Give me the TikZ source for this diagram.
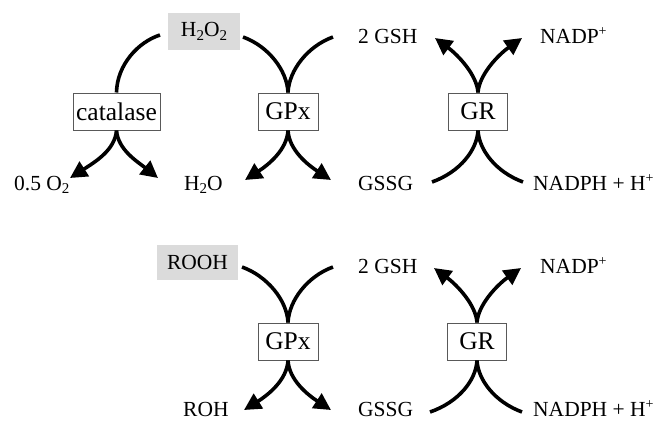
\documentclass[tikz,border=0pt]{standalone}
\usepackage{fontspec}
\setmainfont{Liberation Serif}
\usetikzlibrary{arrows.meta}
\newcommand{\msub}[1]{\raisebox{-0.4ex}{\fontsize{15}{15}\selectfont #1}}
\newcommand{\msup}[1]{\raisebox{0.75ex}{\fontsize{14}{14}\selectfont #1}}
\begin{document}
\begin{tikzpicture}[x=1pt,y=-1pt,
  lbl/.style={anchor=base west,inner sep=0pt,font=\fontsize{21.5}{24}\selectfont},
  enz/.style={draw=black!65,line width=1pt,fill=white,minimum height=37pt,inner sep=0pt,font=\fontsize{25.5}{28}\selectfont},
  subst/.style={fill=black!14,minimum height=37pt,inner sep=0pt,font=\fontsize{21.5}{24}\selectfont},
  flow/.style={line width=3.6pt},
  arr/.style={line width=3.6pt,-{Triangle[length=17pt,width=17pt]}}]
\useasboundingbox (0,0) rectangle (653,421);
% ---------- top row ----------
\node[subst,minimum width=72pt] (h2o2) at (204,31) {H\msub{2}O\msub{2}};
\node[enz,minimum width=87pt] (cat) at (116.5,111.5) {catalase};
\node[enz,minimum width=60pt] (gpx1) at (288,111.5) {GPx};
\node[enz,minimum width=59pt] (gr1) at (478,111.5) {GR};
\node[lbl] (o2) at (14,190) {0.5 O\msub{2}};
\node[lbl] (h2o) at (184,190) {H\msub{2}O};
\node[lbl] (gssg1) at (358,190) {GSSG};
\node[lbl] (nadph1) at (533,190) {NADPH + H\msup{+}};
\node[lbl] (gsh1) at (358,43) {2 GSH};
\node[lbl] (nadp1) at (540,43) {NADP\msup{+}};
\coordinate (cs) at (160,35);
\coordinate (o2t) at (70,178);
\coordinate (h2ot) at (158,178);
\coordinate (g1a) at (243,37);
\coordinate (g1b) at (333,37);
\coordinate (g1c) at (245,180);
\coordinate (g1d) at (331,180);
\coordinate (r1a) at (435,38);
\coordinate (r1b) at (522,38);
\coordinate (r1c) at (432,182);
\coordinate (r1d) at (523,182);
\draw[flow] (cs) .. controls (138,42) and (117,65) .. (cat.north);
\draw[arr] (cat.south) .. controls (115,150) and (95,162) .. (o2t);
\draw[arr] (cat.south) .. controls (118,150) and (138,162) .. (h2ot);
\draw[flow] (g1a) .. controls (268,46) and (287,70) .. (gpx1.north);
\draw[flow] (g1b) .. controls (308,46) and (289,70) .. (gpx1.north);
\draw[arr] (gpx1.south) .. controls (287,150) and (268,165) .. (g1c);
\draw[arr] (gpx1.south) .. controls (289,150) and (308,165) .. (g1d);
\draw[arr] (gr1.north) .. controls (477,75) and (458,55) .. (r1a);
\draw[arr] (gr1.north) .. controls (479,75) and (498,55) .. (r1b);
\draw[flow] (gr1.south) .. controls (477,150) and (460,172) .. (r1c);
\draw[flow] (gr1.south) .. controls (479,150) and (496,172) .. (r1d);
% ---------- bottom row ----------
\node[subst,minimum width=81pt,minimum height=35pt] (rooh) at (197.5,262.5) {ROOH};
\node[enz,minimum width=60pt] (gpx2) at (288,341.5) {GPx};
\node[enz,minimum width=59pt] (gr2) at (477,341.5) {GR};
\node[lbl] (roh) at (183,416) {ROH};
\node[lbl] (gssg2) at (358,416) {GSSG};
\node[lbl] (nadph2) at (533,416) {NADPH + H\msup{+}};
\node[lbl] (gsh2) at (358,273) {2 GSH};
\node[lbl] (nadp2) at (540,273) {NADP\msup{+}};
\coordinate (g2a) at (242,267);
\coordinate (g2b) at (333,267);
\coordinate (g2c) at (244,410);
\coordinate (g2d) at (331,410);
\coordinate (r2a) at (434,268);
\coordinate (r2b) at (521,268);
\coordinate (r2c) at (430,412);
\coordinate (r2d) at (522,412);
\draw[flow] (g2a) .. controls (267,276) and (287,300) .. (gpx2.north);
\draw[flow] (g2b) .. controls (308,276) and (289,300) .. (gpx2.north);
\draw[arr] (gpx2.south) .. controls (287,380) and (268,395) .. (g2c);
\draw[arr] (gpx2.south) .. controls (289,380) and (308,395) .. (g2d);
\draw[arr] (gr2.north) .. controls (476,305) and (457,285) .. (r2a);
\draw[arr] (gr2.north) .. controls (478,305) and (497,285) .. (r2b);
\draw[flow] (gr2.south) .. controls (476,380) and (459,402) .. (r2c);
\draw[flow] (gr2.south) .. controls (478,380) and (495,402) .. (r2d);
\end{tikzpicture}
\end{document}
